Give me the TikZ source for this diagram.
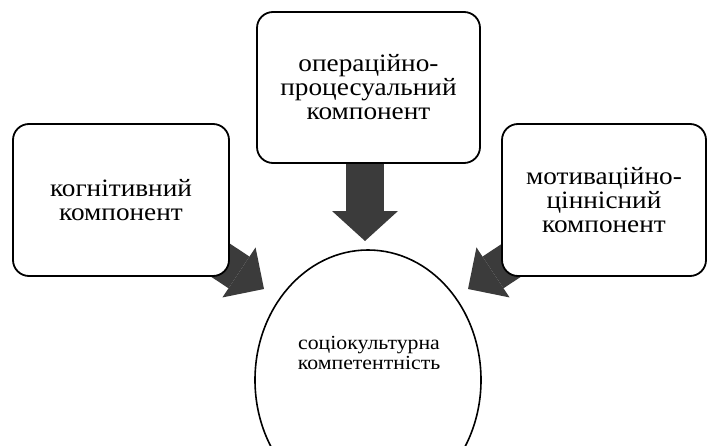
\documentclass[tikz,border=0pt]{standalone}
\usepackage{fontspec}
\setmainfont{Liberation Serif}[FakeStretch=1.09]
\usetikzlibrary{arrows.meta,shapes.geometric}
\definecolor{arr}{HTML}{3B3B3B}
\begin{document}
\begin{tikzpicture}[x=1pt,y=-1pt,
  comp/.style={draw=black, line width=1.8pt, rounded corners=16pt, fill=white,
    inner sep=0pt, align=center, font=\fontsize{25}{24}\selectfont},
  blockarrow/.style={draw=arr, line width=38pt,
    -{Triangle[length=30pt,width=#1,line width=0pt]}},
]
\clip (0,0) rectangle (708,446);
% arrow anchors
\coordinate (ls) at (190,240);
\coordinate (lt) at (264,289);
\coordinate (rs) at (542,240);
\coordinate (rt) at (468,289);
\coordinate (ds) at (365,150);
\coordinate (dt) at (365,241);
% block arrows (behind boxes)
\draw[blockarrow=60pt] (ls) -- (lt);
\draw[blockarrow=60pt] (rs) -- (rt);
\draw[blockarrow=66pt] (ds) -- (dt);
% component boxes
\node[comp, minimum width=216pt, minimum height=152pt] (cog) at (121,200)
  {когнітивний\\компонент};
\node[comp, minimum width=223pt, minimum height=151pt] (oper) at (368.5,87.5)
  {операційно-\\процесуальний\\компонент};
\node[comp, minimum width=204pt, minimum height=152pt] (mot) at (604,200)
  {мотиваційно-\\ціннісний\\компонент};
% competence ellipse
\node[draw=black, line width=1.6pt, ellipse, fill=white, inner sep=0pt,
  minimum width=226pt, minimum height=260pt] (comp) at (368,380) {};
\node[align=center, inner sep=0pt, font=\fontsize{20}{20}\selectfont] (ct) at (369,353)
  {соціокультурна\\компетентність};
\end{tikzpicture}
\end{document}
